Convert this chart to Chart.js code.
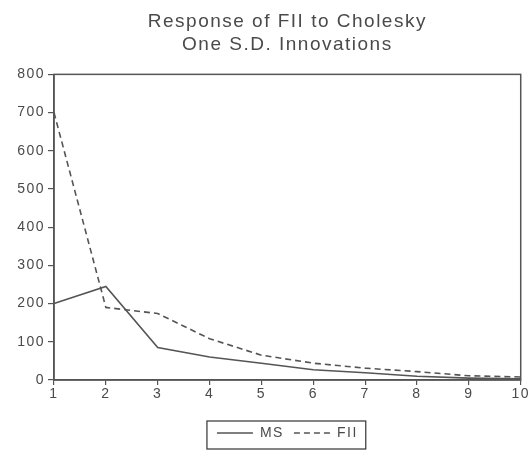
<!DOCTYPE html>
<html>
<head>
<meta charset="utf-8">
<script src="https://cdn.jsdelivr.net/npm/chart.js@4.4.1/dist/chart.umd.min.js"></script>
<style>
  html, body { margin: 0; padding: 0; background: #fff; }
  #wrap { width: 531px; height: 450px; }
</style>
</head>
<body>
<div id="wrap"><canvas id="irf-chart" width="531" height="450"></canvas></div>
<script>
// periods after the shock
var periods = ['1', '2', '3', '4', '5', '6', '7', '8', '9', '10'];
// responses
var msResponse = [200, 245, 85, 60, 44, 27, 19, 10, 5, 3];
var fiiResponse = [700, 190, 174, 108, 65, 44, 31, 22, 11, 8];
var yTicks = [0, 100, 200, 300, 400, 500, 600, 700, 800];

var ink = '#555555';
var textInk = '#4a4a4a';

// the eviews font is wide, so space the letters out a bit
var spacingPlugin = {
    id: 'spacing',
    beforeInit: function(chart) { chart.ctx.letterSpacing = '1.5px'; },
    beforeUpdate: function(chart) { chart.ctx.letterSpacing = '1.5px'; },
    beforeDraw: function(chart) { chart.ctx.letterSpacing = '1.5px'; }
};

// box round the plot and round the legend
var framePlugin = {
    id: 'frames',
    afterDraw: function(chart) {
        var ctx = chart.ctx;
        var a = chart.chartArea;
        ctx.save();
        ctx.strokeStyle = ink;
        ctx.lineWidth = 1.5;
        ctx.setLineDash([]);
        ctx.strokeRect(a.left, a.top, a.right - a.left, a.bottom - a.top);
        var boxes = chart.legend.legendHitBoxes;
        if (boxes && boxes.length) {
            var l = Infinity, t = Infinity, r = -Infinity, b = -Infinity;
            boxes.forEach(function(h) {
                l = Math.min(l, h.left); t = Math.min(t, h.top);
                r = Math.max(r, h.left + h.width); b = Math.max(b, h.top + h.height);
            });
            ctx.lineWidth = 1.2;
            ctx.strokeStyle = '#333';
            ctx.strokeRect(l - 10, t - 5, r - l + 18, b - t + 14);
        }
        ctx.restore();
    }
};

var ctx = document.getElementById('irf-chart').getContext('2d');
var myChart = new Chart(ctx, {
    type: 'line',
    data: {
        labels: periods,
        datasets: [{
            label: 'MS',
            data: msResponse,
            borderColor: ink,
            borderWidth: 1.6,
            pointRadius: 0,
            tension: 0,
            fill: false
        }, {
            label: 'FII',
            data: fiiResponse,
            borderColor: ink,
            borderWidth: 1.6,
            borderDash: [6, 4],
            pointRadius: 0,
            tension: 0,
            fill: false
        }]
    },
    options: {
        responsive: false,
        animation: false,
        layout: { padding: { left: 0, right: 9, top: 0, bottom: 0 } },
        plugins: {
            title: {
                display: true,
                fullSize: false,
                text: ['Response of FII to Cholesky', 'One S.D. Innovations'],
                color: textInk,
                font: { family: 'Liberation Sans', size: 19, weight: 'normal', lineHeight: 1.22 },
                padding: { top: 10, bottom: 18 }
            },
            legend: {
                position: 'bottom',
                fullSize: false,
                labels: {
                    usePointStyle: true,
                    pointStyle: 'line',
                    pointStyleWidth: 36,
                    boxHeight: 12,
                    color: textInk,
                    padding: 10,
                    font: { family: 'Liberation Sans', size: 14 },
                    generateLabels: function(chart) {
                        var items = Chart.defaults.plugins.legend.labels.generateLabels(chart);
                        items.forEach(function(it) {
                            var ds = chart.data.datasets[it.datasetIndex];
                            it.lineDash = ds.borderDash || [];
                            it.lineWidth = 1.4;
                            it.strokeStyle = ink;
                        });
                        return items;
                    }
                }
            },
            tooltip: { enabled: false }
        },
        scales: {
            x: {
                offset: false,
                afterFit: function(scale) { scale.height = 36; },
                border: { display: true, color: ink, width: 1.5 },
                grid: { drawOnChartArea: false, drawTicks: true, tickLength: 5, color: ink, lineWidth: 1.2 },
                ticks: { color: textInk, padding: 1, maxRotation: 0, font: { family: 'Liberation Sans', size: 14 } }
            },
            y: {
                min: 0,
                max: 800,
                afterBuildTicks: function(scale) {
                    scale.ticks = yTicks.map(function(v) { return { value: v }; });
                },
                afterFit: function(scale) { scale.width = 54; },
                border: { display: true, color: ink, width: 1.5 },
                grid: { drawOnChartArea: false, drawTicks: true, tickLength: 6, color: ink, lineWidth: 1.2 },
                ticks: { color: textInk, padding: 3, font: { family: 'Liberation Sans', size: 14 } }
            }
        }
    },
    plugins: [spacingPlugin, framePlugin]
});
</script>
</body>
</html>
